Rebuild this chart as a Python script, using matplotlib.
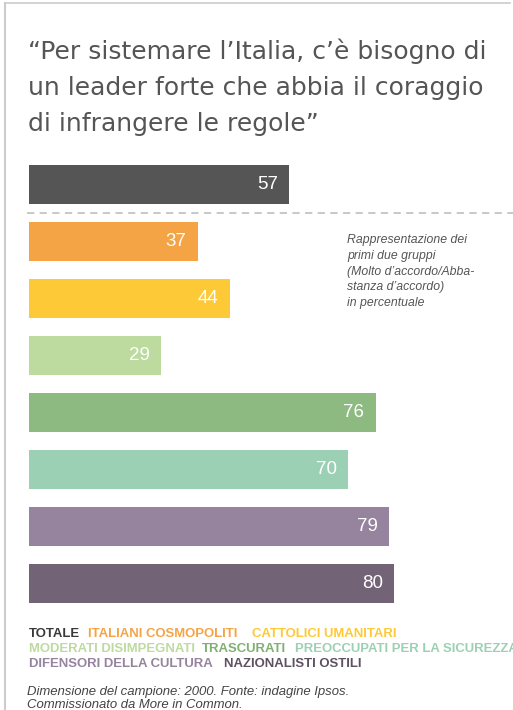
import os
import matplotlib
matplotlib.use("Agg")
import matplotlib.pyplot as plt
from matplotlib.lines import Line2D
from matplotlib import font_manager as fm

W, H = 513, 710

categories = ["TOTALE", "ITALIANI COSMOPOLITI", "CATTOLICI UMANITARI",
              "MODERATI DISIMPEGNATI", "TRASCURATI", "PREOCCUPATI PER LA SICUREZZA",
              "DIFENSORI DELLA CULTURA", "NAZIONALISTI OSTILI"]
values = [57, 37, 44, 29, 76, 70, 79, 80]
colors = ["#555555", "#F5A445", "#FEC936", "#BDDA9F", "#8DBA81", "#9CD0B5", "#96839D", "#726377"]
legend_colors = ["#3a3a3a", "#F5A445", "#FEC936", "#BDDA9F", "#7FB072", "#9CD0B5", "#96839D", "#5f5064"]

title_lines = ["“Per sistemare l’Italia, c’è bisogno di",
               "un leader forte che abbia il coraggio",
               "di infrangere le regole”"]
note_lines = ["Rappresentazione dei", "primi due gruppi",
              "(Molto d’accordo/Abba-", "stanza d’accordo)", "in percentuale"]
footer_lines = ["Dimensione del campione: 2000. Fonte: indagine Ipsos.",
                "Commissionato da More in Common."]

FONT = "Liberation Sans"
TITLE_FONT = "DejaVu Sans"

fig = plt.figure(figsize=(W / 100, H / 100), dpi=100)
fig.patch.set_facecolor("white")
renderer = fig.canvas.get_renderer()


def fx(x):
    return x / W


def fy(y):
    return 1 - y / H


def fit_size(text, target_px, **kw):
    t = fig.text(0, 0, text, fontsize=10, **kw)
    w = t.get_window_extent(renderer).width
    t.remove()
    return 10 * target_px / w


# frame lines (top and left)
fig.add_artist(Line2D([fx(5), fx(510)], [fy(3), fy(3)], color="#cccccc", lw=1.2))
fig.add_artist(Line2D([fx(5), fx(5)], [fy(3), fy(710)], color="#cccccc", lw=1.5))

# axes: x=0 at pixel 29, 4.56 px per unit
px_per_unit = 4.56
ax_left, ax_width = 29, 100 * px_per_unit
pitch = 57
ax_top = 184.5 - pitch / 2
ax_h = pitch * len(values)
ax = fig.add_axes([fx(ax_left), fy(ax_top + ax_h), ax_width / W, ax_h / H])
ax.set_xlim(0, 100)
ax.set_ylim(len(values) - 0.5, -0.5)
ax.axis("off")

ypos = list(range(len(values)))
ax.barh(ypos, values, height=39 / pitch, color=colors, left=0)
for y, v in zip(ypos, values):
    ax.annotate(str(v), xy=(v, y), xytext=(-8, 0), textcoords="offset points",
                ha="right", va="center", color="white", fontsize=13.5, family=FONT)

# dashed separator
ax.plot([-2 / px_per_unit, (W - 29) / px_per_unit], [0.5, 0.5], color="#c4c4c4",
        lw=1.3, ls=(0, (4, 3)), clip_on=False)

# title
ts = fit_size(title_lines[0], 457, family=TITLE_FONT)
for i, line in enumerate(title_lines):
    fig.text(fx(28), fy(59 + 36 * i), line, fontsize=ts, color="#555555",
             family=TITLE_FONT, va="baseline", ha="left")

# note
ns = fit_size(note_lines[0], 120, family=FONT, style="italic")
for i, line in enumerate(note_lines):
    fig.text(fx(347), fy(243 + 15.8 * i), line, fontsize=ns, color="#555555",
             family=FONT, style="italic", va="baseline", ha="left")

# legend
ls_ = fit_size(categories[3], 166, family=FONT, fontweight="bold")
legend_rows = [[0, 1, 2], [3, 4, 5], [6, 7]]
legend_x = [[29, 88, 252], [29, 202, 295], [29, 224]]
for r, (row, xs) in enumerate(zip(legend_rows, legend_x)):
    for idx, x in zip(row, xs):
        fig.text(fx(x), fy(637.3 + 15 * r), categories[idx], fontsize=ls_,
                 fontweight="bold", color=legend_colors[idx], family=FONT,
                 va="baseline", ha="left")

# footer
fs = fit_size(footer_lines[0], 325, family=FONT, style="italic")
for i, line in enumerate(footer_lines):
    fig.text(fx(27), fy(695 + 12.5 * i), line, fontsize=fs, color="#444444",
             family=FONT, style="italic", va="baseline", ha="left")

fig.savefig("out.png", dpi=100, facecolor="white")
